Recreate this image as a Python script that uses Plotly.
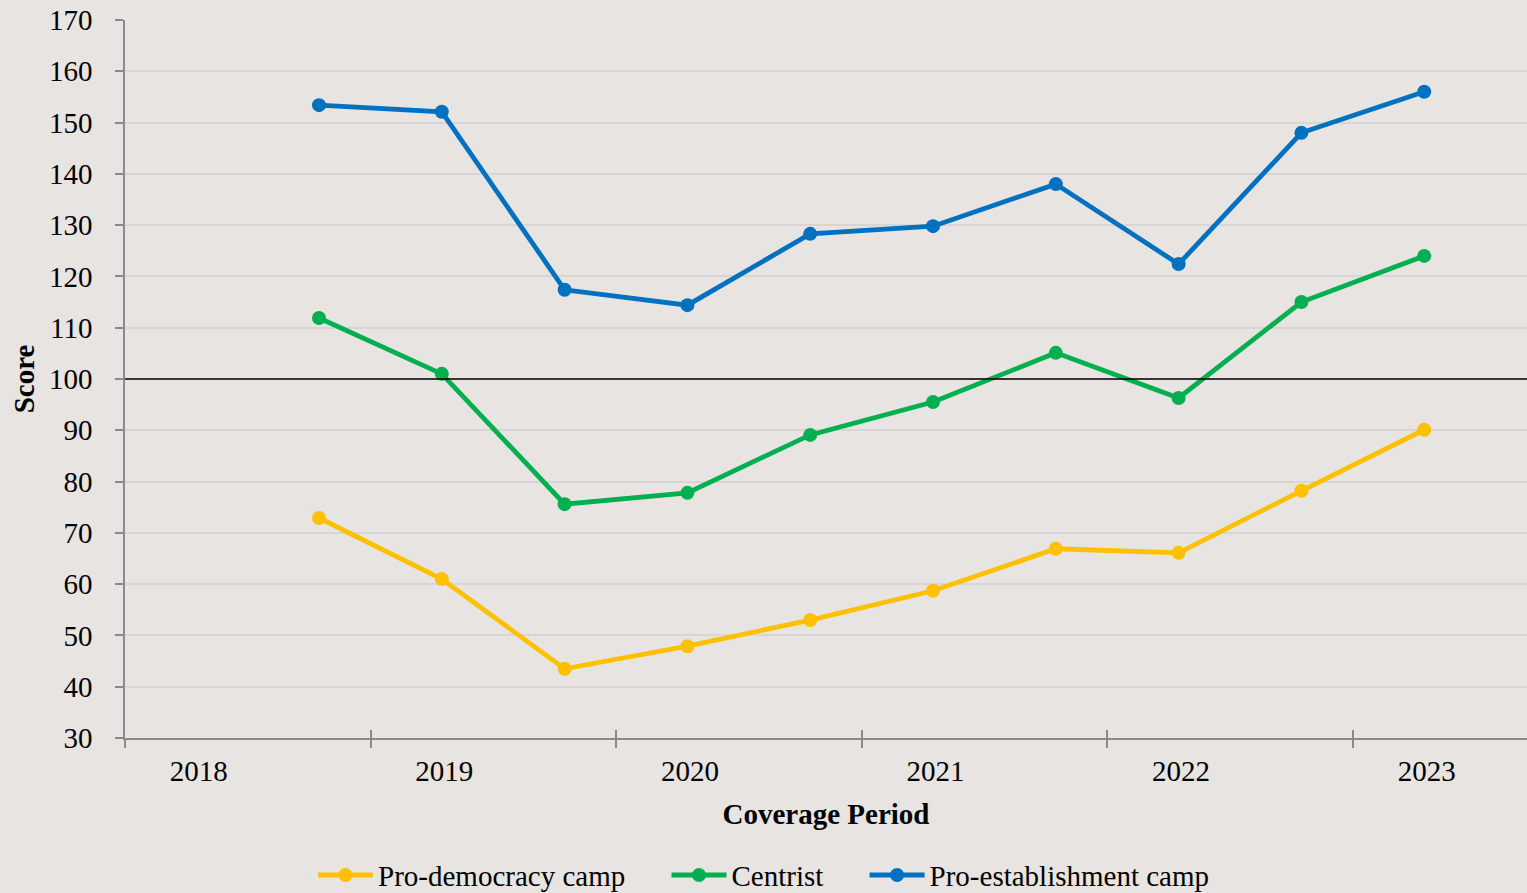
import plotly.graph_objects as go

# Coverage periods as decimal-year positions (half-yearly points)
period_x = [2018.79, 2019.29, 2019.79, 2020.29, 2020.79, 2021.29, 2021.79, 2022.29, 2022.79, 2023.29]

pro_democracy = [72.9, 61.0, 43.5, 47.9, 53.0, 58.7, 66.9, 66.1, 78.2, 90.1]
centrist = [111.9, 101.0, 75.6, 77.8, 89.1, 95.5, 105.1, 96.3, 115.0, 124.0]
pro_establishment = [153.4, 152.1, 117.4, 114.4, 128.3, 129.8, 138.0, 122.4, 148.0, 156.0]

year_labels = ["2018", "2019", "2020", "2021", "2022", "2023"]
year_label_pos = [2018.30, 2019.30, 2020.30, 2021.30, 2022.30, 2023.30]
year_ticks = [2018, 2019, 2020, 2021, 2022, 2023]
reference_score = 100

FONT = "Liberation Serif, Times New Roman, serif"
BG = "#E7E4E1"
AXC = "#8A8A8A"
NB = "\u00a0"

series = [
    ("Pro-democracy camp", pro_democracy, "#FFC000"),
    ("Centrist", centrist, "#00B050"),
    ("Pro-establishment camp", pro_establishment, "#0070C0"),
]

fig = go.Figure()
for name, vals, col in series:
    fig.add_trace(go.Scatter(
        x=period_x, y=vals, name=name + NB * 5, mode="lines+markers",
        line=dict(color=col, width=4.8),
        marker=dict(color=col, size=14),
    ))

xr = [2018, 2018 + 1402 / 245.6]

fig.add_shape(type="line", xref="paper", yref="y", x0=0, x1=1,
              y0=reference_score, y1=reference_score,
              line=dict(color="black", width=1.5), layer="above")

fig.update_layout(
    width=1527, height=893,
    margin=dict(l=125, r=0, t=20, b=155),
    paper_bgcolor=BG, plot_bgcolor=BG,
    font=dict(family=FONT, size=29, color="black"),
    showlegend=True,
    legend=dict(orientation="h", xref="container", yref="container",
                x=0.205, xanchor="left", y=0.02, yanchor="middle",
                font=dict(size=29), bgcolor="rgba(0,0,0,0)",
                itemwidth=55, tracegroupgap=0),
    xaxis=dict(range=xr, tickmode="array", tickvals=year_label_pos, ticktext=year_labels,
               ticks="", showgrid=False, zeroline=False,
               showline=True, linecolor=AXC, linewidth=1.5,
               tickfont=dict(size=29), ticklabelstandoff=6,
               title=dict(text="<b>Coverage Period</b>", font=dict(size=29), standoff=18),
               minor=dict(tickmode="array", tickvals=year_ticks, ticks="outside",
                          ticklen=8, tickwidth=1.5, tickcolor=AXC, showgrid=False)),
    xaxis2=dict(range=xr, overlaying="x", anchor="y", side="bottom",
                tickmode="array", tickvals=year_ticks, ticks="inside",
                ticklen=8, tickwidth=1.5, tickcolor=AXC,
                showticklabels=False, showgrid=False, zeroline=False, showline=False),
    yaxis=dict(range=[30, 170], dtick=10, tick0=30, ticks="outside", ticklen=8,
               tickwidth=1.5, tickcolor=AXC, showline=True, linecolor=AXC, linewidth=1.5,
               gridcolor="#D8D6D4", gridwidth=1.5, zeroline=False,
               tickfont=dict(size=29), ticklabelstandoff=17,
               title=dict(text="<b>Score</b>", font=dict(size=29), standoff=6)),
)

# invisible helper trace to make xaxis2 render
fig.add_trace(go.Scatter(x=[xr[0]], y=[None], xaxis="x2", showlegend=False,
                         hoverinfo="skip", mode="markers", marker=dict(opacity=0)))

fig.write_html("out.html", config={"displayModeBar": False},
               post_script="document.body.style.margin='0';document.body.style.overflow='hidden';")
